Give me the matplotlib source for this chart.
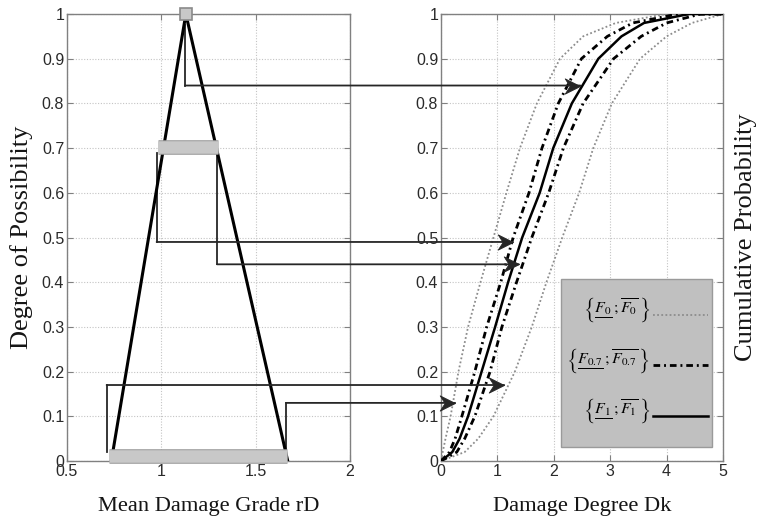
import matplotlib
matplotlib.use("Agg")
import matplotlib.pyplot as plt
from matplotlib.patches import ConnectionPatch, Rectangle
from matplotlib import patheffects as pe
from matplotlib.path import Path
import matplotlib.transforms as mtransforms
from matplotlib.mathtext import MathTextParser
from matplotlib.font_manager import FontProperties

plt.rcParams['mathtext.fontset'] = 'stix'
plt.rcParams['font.family'] = ['Liberation Sans', 'DejaVu Sans']

# ---------------- data ----------------
# triangular fuzzy number of the mean damage grade
tri_x = [0.735, 1.13, 1.67]
tri_y = [0.0, 1.0, 0.0]

# alpha-cut intervals (level, low, high)
cut_levels = [0.0, 0.7]
cut_low = [0.72, 0.98]
cut_high = [1.665, 1.30]
peak_x = 1.13
peak_y = 1.0

# connector arrows: vertical x on left chart, start y, level, arrow tip x on right chart
conn_x = [1.125, 0.975, 1.295, 0.71, 1.66]
conn_start = [0.975, 0.69, 0.69, 0.02, 0.02]
conn_level = [0.84, 0.49, 0.44, 0.17, 0.13]
conn_tip = [2.47, 1.27, 1.38, 1.12, 0.25]

# cumulative probability levels and the damage degree read for each curve
prob = [0.0, 0.02, 0.05, 0.1, 0.2, 0.3, 0.4, 0.5, 0.6, 0.7, 0.8, 0.9, 0.95, 0.98, 1.0, 1.0]
F0_upper = [0.0, 0.03, 0.08, 0.17, 0.31, 0.48, 0.70, 0.93, 1.16, 1.40, 1.70, 2.11, 2.52, 3.10, 4.00, 5.0]
F07_upper = [0.0, 0.15, 0.25, 0.37, 0.60, 0.81, 1.06, 1.28, 1.56, 1.79, 2.08, 2.49, 2.95, 3.40, 4.20, 5.0]
F1 = [0.0, 0.20, 0.33, 0.48, 0.72, 0.96, 1.19, 1.44, 1.75, 1.99, 2.32, 2.79, 3.20, 3.60, 4.40, 5.0]
F07_lower = [0.0, 0.28, 0.42, 0.60, 0.87, 1.08, 1.34, 1.61, 1.91, 2.17, 2.52, 3.06, 3.55, 4.00, 4.60, 5.0]
F0_lower = [0.0, 0.42, 0.66, 0.93, 1.31, 1.61, 1.87, 2.15, 2.45, 2.70, 3.03, 3.53, 4.00, 4.45, 5.00, 5.0]

left_yticks = [0, 0.1, 0.2, 0.3, 0.4, 0.5, 0.6, 0.7, 0.8, 0.9, 1]
left_ytick_labels = ['0', '0.1', '0.2', '0.3', '0.4', '0.5', '0.6', '0.7', '0.8', '0.9', '1']
left_xticks = [0.5, 1, 1.5, 2]
left_xtick_labels = ['0.5', '1', '1.5', '2']
right_xticks = [0, 1, 2, 3, 4, 5]
right_xtick_labels = ['0', '1', '2', '3', '4', '5']
subs = ['0', '0.7', '1']

_parser = MathTextParser('path')


def _ok(s):
    try:
        _parser.parse(s, 100, FontProperties(size=14))
        return True
    except Exception:
        return False


def interval_label(sub):
    # {F_sub underlined ; F_sub overlined}
    cands = [
        r'$\left\{\genfrac{}{}{0.8}{}{F_{%s}}{\,}\genfrac{}{}{0}{}{;\overline{F_{%s}}}{\,}\right\}$' % (sub, sub),
        r'$\left\{F_{%s};\overline{F_{%s}}\right\}$' % (sub, sub),
    ]
    for c in cands:
        if _ok(c):
            return c
    return cands[-1]


labels = [interval_label(s) for s in subs]

# ---------------- figure ----------------
W, H = 763, 524
fig = plt.figure(figsize=(W / 100, H / 100), dpi=100)
ax1 = fig.add_axes([67 / W, 63 / H, 283 / W, 447 / H])
ax2 = fig.add_axes([441 / W, 63 / H, 282 / W, 447 / H])

spine_col = '#808080'
for ax in (ax1, ax2):
    for s in ax.spines.values():
        s.set_color(spine_col)
        s.set_linewidth(1.0)
    ax.set_ylim(0, 1)
    ax.set_yticks(left_yticks)
    ax.set_yticklabels(left_ytick_labels)
    ax.tick_params(direction='in', top=True, right=True, length=4, width=0.8,
                   color=spine_col, labelsize=11.5, labelcolor='#2a2a2a', pad=2)
    ax.grid(True, linestyle=(0, (1, 1.5)), color='#c4c4c4', linewidth=0.8)
    ax.set_axisbelow(True)

ax1.set_xlim(0.5, 2)
ax1.set_xticks(left_xticks)
ax1.set_xticklabels(left_xtick_labels)
ax2.set_xlim(0, 5)
ax2.set_xticks(right_xticks)
ax2.set_xticklabels(right_xtick_labels)

serif = ['Liberation Serif', 'DejaVu Serif']
text_col = '#151515'

# ---- left chart ----
ax1.plot(tri_x, tri_y, color='black', linewidth=2.2, zorder=3)
bar_fx = [pe.Stroke(linewidth=10.5, foreground='#9a9a9a'), pe.Normal()]
for lvl, lo, hi in zip(cut_levels, cut_low, cut_high):
    dy = 5 if lvl == 0 else 1
    tr = mtransforms.offset_copy(ax1.transData, fig=fig, x=0, y=dy, units='dots')
    ax1.plot([lo, hi], [lvl, lvl], color='#c8c8c8', linewidth=9, solid_capstyle='butt',
             transform=tr, path_effects=bar_fx, zorder=4, clip_on=False)
ax1.plot([peak_x], [peak_y], marker='s', markersize=8.5, markerfacecolor='#c8c8c8',
         markeredgecolor='#8a8a8a', markeredgewidth=1.2, linestyle='none',
         zorder=5, clip_on=False)

ax1.set_xlabel('Mean Damage Grade rD', fontfamily=serif, fontsize=16.2, color=text_col)
ax1.xaxis.set_label_coords(0.5, -(507 - 461) / 447)
ax1.xaxis.label.set_verticalalignment('center')
ax1.set_ylabel('Degree of Possibility', fontfamily=serif, fontsize=19, color=text_col)
ax1.yaxis.set_label_coords((22 - 67) / 283, 0.5)
ax1.yaxis.label.set_verticalalignment('center')

# ---- right chart ----
dot_style = dict(color='#8c8c8c', linewidth=1.3, linestyle=(0, (1, 1.3)))
dd_style = dict(color='black', linewidth=2.0, linestyle=(0, (2.4, 1.4, 0.7, 1.4)))
solid_style = dict(color='black', linewidth=1.8, linestyle='-')

h0, = ax2.plot(F0_upper, prob, **dot_style, zorder=3)
ax2.plot(F0_lower, prob, **dot_style, zorder=3)
h07, = ax2.plot(F07_upper, prob, **dd_style, zorder=3)
ax2.plot(F07_lower, prob, **dd_style, zorder=3)
h1, = ax2.plot(F1, prob, **solid_style, zorder=3)

# legend box (drawn as a grey panel) and legend entries on top of it
box = Rectangle(((561 - 441) / 282, (461 - 447) / 447), (712 - 561) / 282, (447 - 279) / 447,
                transform=ax2.transAxes, facecolor='#c0c0c0', edgecolor='#9a9a9a',
                linewidth=1.0, zorder=7)
ax2.add_patch(box)
leg = ax2.legend([h0, h07, h1], labels,
                 loc='center', bbox_to_anchor=((637 - 441) / 282, (461 - 364) / 447),
                 markerfirst=False, fontsize=16.5, handlelength=2.4, handletextpad=0.15,
                 labelspacing=0.95, borderpad=0.1, frameon=False)
leg.set_zorder(8)

ax2.set_xlabel('Damage Degree Dk', fontfamily=serif, fontsize=16.2, color=text_col)
ax2.xaxis.set_label_coords(0.5, -(507 - 461) / 447)
ax2.xaxis.label.set_verticalalignment('center')
ax2.set_ylabel('Cumulative Probability', fontfamily=serif, fontsize=19, color=text_col)
ax2.yaxis.set_label_position('right')
ax2.yaxis.set_label_coords((746 - 441) / 282, 0.5)
ax2.yaxis.label.set_rotation(90)
ax2.yaxis.label.set_verticalalignment('center')
ax2.yaxis.label.set_horizontalalignment('center')

# ---- connectors with dart-shaped arrowheads ----
conn_col = '#262626'
dart = Path([(0, 0), (-1, 0.5), (-0.68, 0), (-1, -0.5), (0, 0)],
            [Path.MOVETO, Path.LINETO, Path.LINETO, Path.LINETO, Path.CLOSEPOLY])
for x, y0, lvl, tip in zip(conn_x, conn_start, conn_level, conn_tip):
    ax1.plot([x, x], [y0, lvl], color=conn_col, linewidth=1.3, zorder=2)
    cp = ConnectionPatch(xyA=(x, lvl), coordsA=ax1.transData,
                         xyB=(tip, lvl), coordsB=ax2.transData,
                         arrowstyle='-', color=conn_col, linewidth=1.3,
                         shrinkA=0, shrinkB=0, zorder=6)
    fig.add_artist(cp)
    ax2.plot([tip], [lvl], marker=dart, markersize=22, color=conn_col,
             markeredgewidth=0.6, linestyle='none', zorder=6, clip_on=False)

fig.savefig('out.png', dpi=100)
